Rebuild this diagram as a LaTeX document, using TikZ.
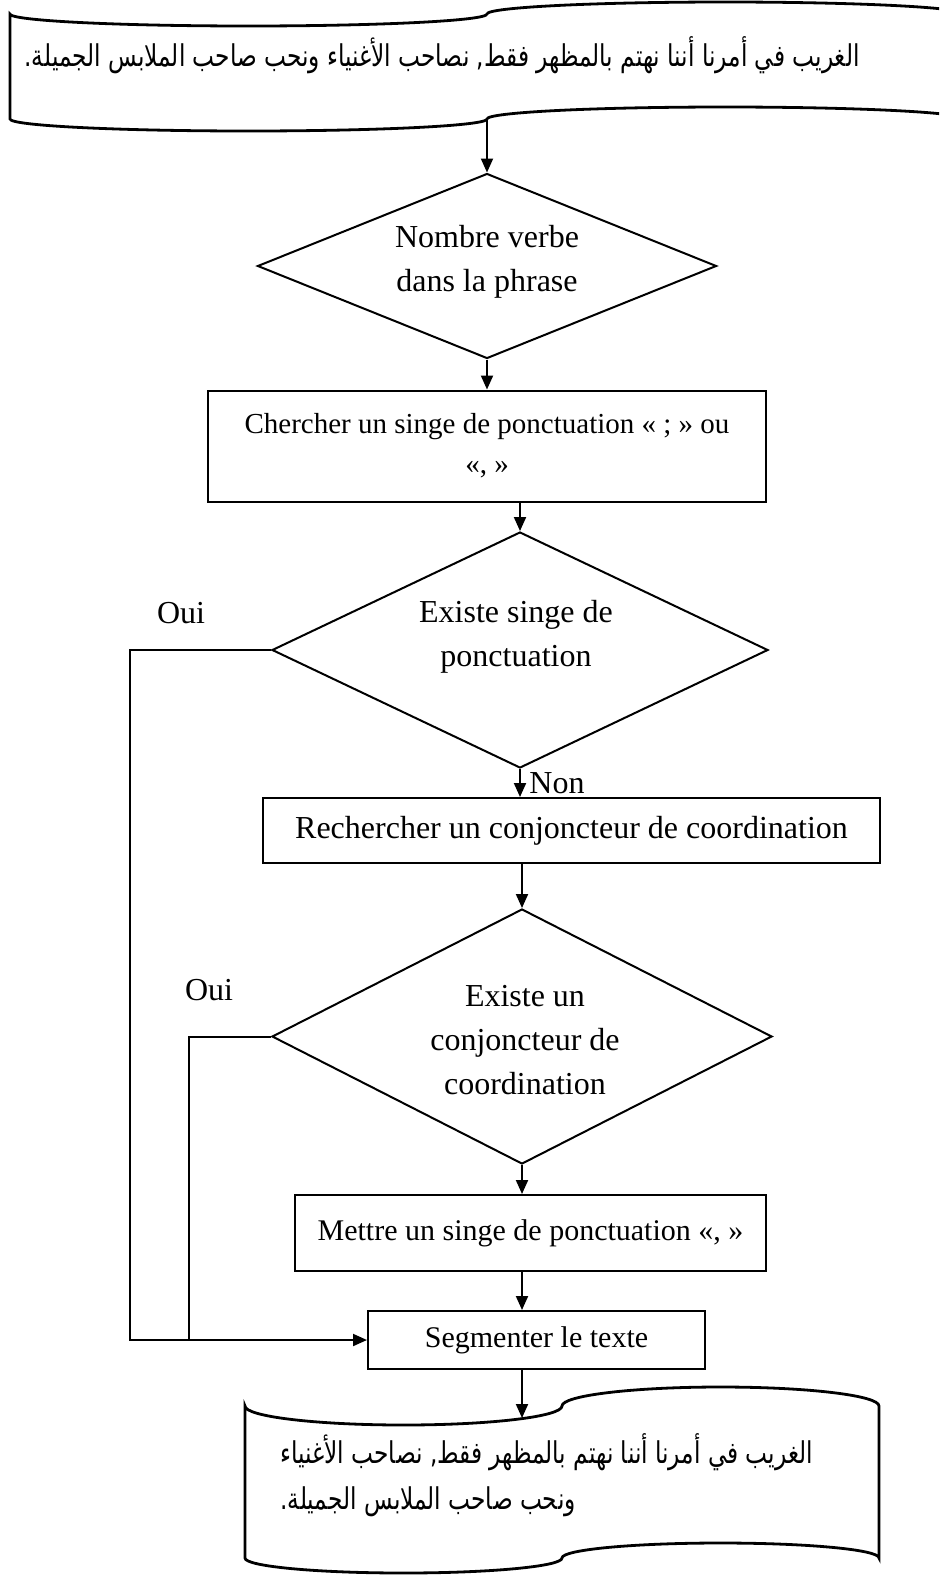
\documentclass[tikz,border=0pt]{standalone}
\usepackage{fontspec}
\setmainfont{Liberation Serif}
\newfontfamily\arabicfont[Script=Arabic,FakeStretch=0.775]{DejaVu Sans}
\TeXXeTstate=1
\usetikzlibrary{arrows.meta,shapes.geometric}
% punched tape: #1 left x, #2 right x, #3 top corner y, #4 top amplitude, #5 bottom corner y, #6 bottom amplitude
\newcommand\tapedraw[6]{%
  \pgfmathsetmacro\tL{#1}\pgfmathsetmacro\tA{(#2-#1)/4}%
  \pgfmathsetmacro\kA{0.5523*\tA}%
  \draw[tape] (#1,#3)
  .. controls (#1,{#3+0.5523*#4}) and ({\tL+\tA-\kA},{#3+#4}) .. ({\tL+\tA},{#3+#4})
  .. controls ({\tL+\tA+\kA},{#3+#4}) and ({\tL+2*\tA},{#3+0.5523*#4}) .. ({\tL+2*\tA},#3)
  .. controls ({\tL+2*\tA},{#3-0.5523*#4}) and ({\tL+3*\tA-\kA},{#3-#4}) .. ({\tL+3*\tA},{#3-#4})
  .. controls ({\tL+3*\tA+\kA},{#3-#4}) and (#2,{#3-0.5523*#4}) .. (#2,#3)
  -- (#2,#5)
  .. controls (#2,{#5-0.5523*#6}) and ({\tL+3*\tA+\kA},{#5-#6}) .. ({\tL+3*\tA},{#5-#6})
  .. controls ({\tL+3*\tA-\kA},{#5-#6}) and ({\tL+2*\tA},{#5-0.5523*#6}) .. ({\tL+2*\tA},#5)
  .. controls ({\tL+2*\tA},{#5+0.5523*#6}) and ({\tL+\tA+\kA},{#5+#6}) .. ({\tL+\tA},{#5+#6})
  .. controls ({\tL+\tA-\kA},{#5+#6}) and (#1,{#5+0.5523*#6}) .. (#1,#5)
  -- cycle;}
\begin{document}
\begin{tikzpicture}[x=0.5pt,y=-0.5pt,
  every node/.style={font=\fontsize{16}{22}\selectfont},
  box/.style={draw,line width=1pt,inner sep=0pt,align=center},
  dia/.style={draw,diamond,line width=1pt,inner sep=0pt},
  arr/.style={-{Triangle[length=7pt,width=6pt]},line width=1pt},
  ln/.style={line width=1pt},
  tape/.style={line width=1.4pt},
  lbl/.style={inner sep=0pt},
  artext/.style={inner sep=0pt,font=\arabicfont\fontsize{15}{23}\selectfont}]
\useasboundingbox (0,0) rectangle (939,1575);
% top punched tape (runs past the right edge of the page)
\begin{scope}
\clip (0,0) rectangle (939,1575);
\tapedraw{10}{964}{14}{12}{119}{12}
\end{scope}
\node[artext,anchor=east] (t1) at (860,55) {\beginR الغريب في أمرنا أننا نهتم بالمظهر فقط, نصاحب الأغنياء ونحب صاحب الملابس الجميلة.\endR};
\coordinate (tapeA) at (487,119);
% diamond 1
\node[dia,minimum width=229.5pt,minimum height=92.5pt] (d1) at (487,266) {};
\node[lbl,align=center] (d1t) at (487,262) {Nombre verbe\\dans la phrase};
% rect 2
\node[box,minimum width=279pt,minimum height=55.5pt,font=\fontsize{14.5}{20}\selectfont] (r2) at (487,446) {Chercher un singe de ponctuation « ; » ou\\«, »};
% diamond 2
\node[dia,minimum width=248pt,minimum height=118pt] (d2) at (520,650) {};
\node[lbl,align=center] (d2t) at (516,637) {Existe singe de\\ponctuation};
\node[lbl] (oui1) at (181,613) {Oui};
% rect 3
\node[box,minimum width=308.5pt,minimum height=32.5pt] (r3) at (571.5,830.5) {Rechercher un conjoncteur de coordination};
\node[lbl,anchor=west] (non) at (529,783) {Non};
% diamond 3
\node[dia,minimum width=250pt,minimum height=127.5pt] (d3) at (522,1036.5) {};
\node[lbl,align=center] (d3t) at (525,1040) {Existe un\\conjoncteur de\\coordination};
\node[lbl] (oui2) at (209,990) {Oui};
% rect 4
\node[box,minimum width=235.5pt,minimum height=38pt,font=\fontsize{15}{20}\selectfont] (r4) at (530.5,1233) {Mettre un singe de ponctuation «, »};
% rect 5
\node[box,minimum width=168.5pt,minimum height=29pt,font=\fontsize{15}{20}\selectfont] (r5) at (536.5,1340) {Segmenter le texte};
% bottom punched tape
\tapedraw{245}{879}{1406}{19}{1558}{15}
\node[artext,anchor=west,align=left] (t2) at (280,1475) {\beginR الغريب في أمرنا أننا نهتم بالمظهر فقط, نصاحب الأغنياء\endR\\\beginR ونحب صاحب الملابس الجميلة.\endR};
\coordinate (tapeB) at (522,1418);
\coordinate (bendA) at (130,650);
\coordinate (bendB) at (189,1036.5);
% connectors
\draw[arr] (tapeA) -- (d1.north);
\draw[arr] (d1.south) -- (r2.north);
\draw[arr] (d2.north |- r2.south) -- (d2.north);
\draw[arr] (d2.south) -- (d2.south |- r3.north);
\draw[arr] (d3.north |- r3.south) -- (d3.north);
\draw[arr] (d3.south) -- (d3.south |- r4.north);
\draw[arr] (d3.south |- r4.south) -- (d3.south |- r5.north);
\draw[arr] (d3.south |- r5.south) -- (tapeB);
\draw[arr] (d2.west) -- (bendA) -- (bendA |- r5.west) -- (r5.west);
\draw[ln] (d3.west) -- (bendB) -- (bendB |- r5.west);
\end{tikzpicture}
\end{document}
